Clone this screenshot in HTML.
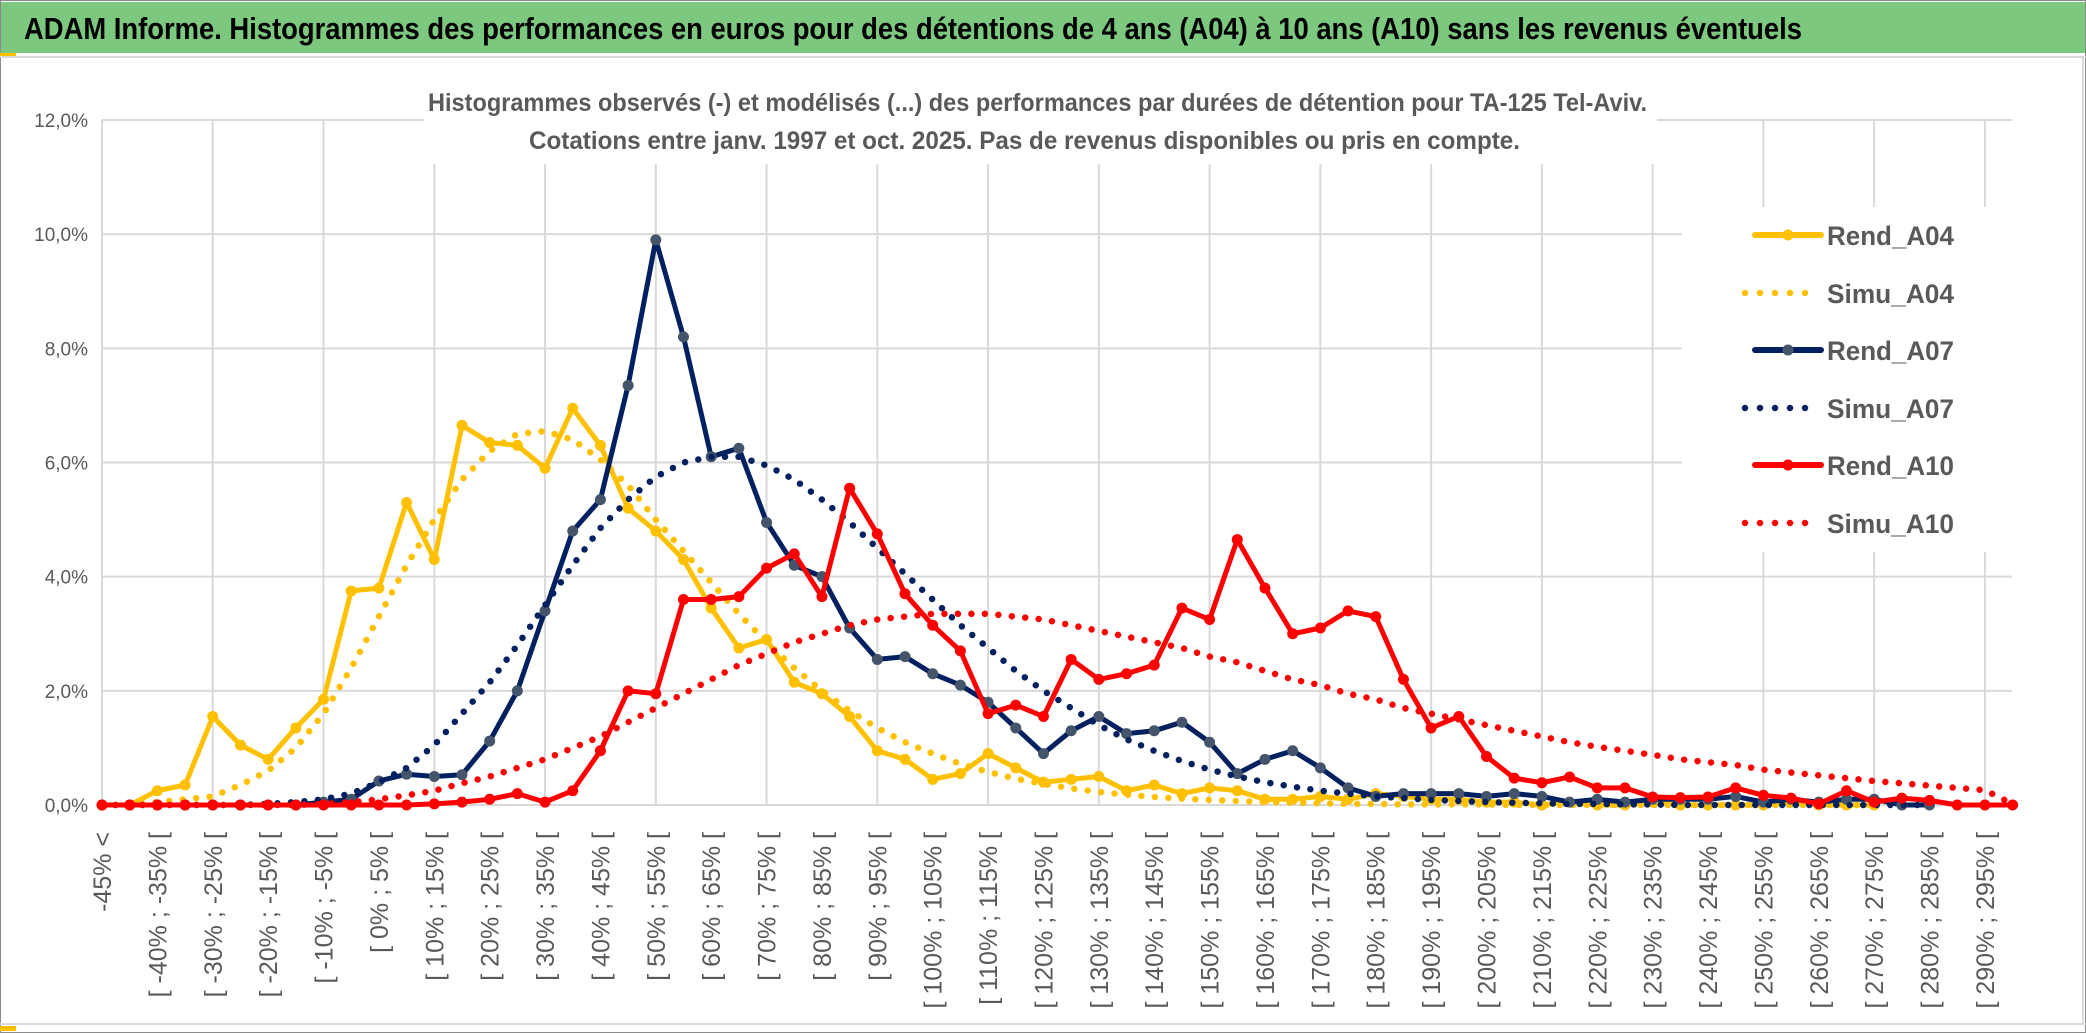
<!DOCTYPE html>
<html><head><meta charset="utf-8">
<style>
html,body{margin:0;padding:0;background:#fff;}
svg{display:block;}
</style></head>
<body>
<svg id="chart" width="2086" height="1033" xmlns="http://www.w3.org/2000/svg" font-family="'Liberation Sans Narrow','Liberation Sans',sans-serif">
  <rect x="0" y="0" width="2086" height="1033" fill="#fff"/>
  <rect x="0.5" y="0.5" width="2085" height="1032" fill="none" stroke="#8a8a8a" stroke-width="1"/>
  <rect x="1" y="2" width="2084" height="51" fill="#7dc87f"/>
  <text x="24" y="39" font-size="31" font-weight="bold" fill="#000" textLength="1778" lengthAdjust="spacingAndGlyphs">ADAM Informe. Histogrammes des performances en euros pour des détentions de 4 ans (A04) à 10 ans (A10) sans les revenus éventuels</text>
  <rect x="0" y="53" width="16" height="3" fill="#ffc000"/>
  <line x1="0" y1="57" x2="2086" y2="57" stroke="#d9d9d9" stroke-width="2"/>
  <line x1="2083" y1="57" x2="2083" y2="1024" stroke="#d9d9d9" stroke-width="2"/>
  <line x1="0" y1="1024" x2="2086" y2="1024" stroke="#d9d9d9" stroke-width="2"/>
  <rect x="0" y="1026" width="16" height="5" fill="#ffc000"/>
  <g id="grid"></g>
  <g id="yticks"></g>
  <g id="xticks"></g>
  <rect x="424" y="86" width="1233" height="78" fill="#fff"/>
  <text x="428" y="111" font-size="25" font-weight="bold" fill="#595959" textLength="1219" lengthAdjust="spacingAndGlyphs">Histogrammes observés (-) et modélisés (...) des performances par durées de détention pour TA-125 Tel-Aviv.</text>
  <text x="529" y="149" font-size="25" font-weight="bold" fill="#595959" textLength="991" lengthAdjust="spacingAndGlyphs">Cotations entre janv. 1997 et oct. 2025. Pas de revenus disponibles ou pris en compte.</text>
  <g id="series"></g>
  <rect x="1682" y="207" width="345" height="345" fill="#fff"/>
  <g id="legend"></g>
</svg>
<script>
const categories = ['-45% <'];
for (let k = 1; k < 70; k++) { categories.push('[ ' + (-50 + 5*k) + '% ; ' + (-45 + 5*k) + '% ['); }
const yTicks = [0, 2, 4, 6, 8, 10, 12];
const yTickLabels = ['0,0%', '2,0%', '4,0%', '6,0%', '8,0%', '10,0%', '12,0%'];

const rendA04 = [0,0,0.25,0.35,1.55,1.05,0.8,1.35,1.85,3.75,3.8,5.3,4.3,6.65,6.35,6.3,5.9,6.95,6.3,5.2,4.8,4.3,3.45,2.75,2.9,2.15,1.95,1.55,0.95,0.8,0.45,0.55,0.9,0.65,0.4,0.45,0.5,0.25,0.35,0.2,0.3,0.25,0.1,0.1,0.15,0.1,0.2,0.15,0.1,0.1,0.05,0.05,0,0.05,0,0,0.05,0,0,0,0,0.05,0,0,0];
const simuA04 = [0,0,0.05,0.1,0.15,0.35,0.6,1.0,1.6,2.4,3.3,4.2,5.0,5.7,6.2,6.5,6.55,6.4,6.05,5.6,5.0,4.45,3.9,3.35,2.85,2.4,2.0,1.65,1.35,1.1,0.9,0.72,0.58,0.46,0.37,0.29,0.23,0.18,0.14,0.11,0.09,0.07,0.05,0.04,0.03,0.02,0.02,0.01,0.01,0.01,0.01,0,0,0,0,0,0,0,0,0,0,0,0,0,0];
const rendA07 = [0,0,0,0,0,0,0,0,0.05,0.1,0.42,0.54,0.5,0.53,1.12,2.0,3.4,4.8,5.35,7.35,9.9,8.2,6.1,6.25,4.95,4.2,4.0,3.1,2.55,2.6,2.3,2.1,1.8,1.35,0.9,1.3,1.55,1.25,1.3,1.45,1.1,0.55,0.8,0.95,0.65,0.3,0.15,0.2,0.2,0.2,0.15,0.2,0.15,0.05,0.1,0.05,0.1,0.1,0.1,0.15,0.05,0.1,0.05,0.1,0.1,0,0];
const simuA07 = [0,0,0,0,0,0,0.02,0.05,0.1,0.2,0.4,0.65,1.05,1.6,2.15,2.8,3.5,4.2,4.85,5.35,5.75,6.0,6.1,6.1,5.95,5.7,5.35,4.95,4.5,4.05,3.6,3.15,2.75,2.35,2.0,1.7,1.4,1.15,0.95,0.77,0.62,0.5,0.4,0.32,0.25,0.2,0.15,0.12,0.09,0.07,0.05,0.04,0.03,0.02,0.02,0.01,0.01,0,0,0,0,0,0,0,0,0,0];
const rendA10 = [0,0,0,0,0,0,0,0,0,0,0,0,0.02,0.05,0.1,0.2,0.05,0.25,0.95,2.0,1.95,3.6,3.6,3.65,4.15,4.4,3.65,5.55,4.75,3.7,3.15,2.7,1.6,1.75,1.55,2.55,2.2,2.3,2.45,3.45,3.25,4.65,3.8,3.0,3.1,3.4,3.3,2.2,1.35,1.55,0.85,0.47,0.39,0.49,0.3,0.3,0.14,0.13,0.14,0.3,0.17,0.12,0.02,0.25,0.05,0.12,0.08,0,0,0];
const simuA10 = [0,0,0,0,0,0,0,0,0.02,0.05,0.1,0.17,0.25,0.38,0.5,0.65,0.8,1.0,1.2,1.45,1.7,1.95,2.2,2.45,2.65,2.85,3.0,3.15,3.25,3.3,3.35,3.35,3.35,3.3,3.25,3.15,3.05,2.95,2.85,2.75,2.6,2.5,2.35,2.2,2.1,1.95,1.85,1.7,1.6,1.5,1.4,1.3,1.2,1.1,1.02,0.95,0.88,0.8,0.75,0.7,0.62,0.57,0.52,0.47,0.42,0.38,0.34,0.3,0.26,0.02];

const seriesNames = ['Rend_A04','Simu_A04','Rend_A07','Simu_A07','Rend_A10','Simu_A10'];

const NS = 'http://www.w3.org/2000/svg';
const X0 = 102, STEP = 27.69, Y0 = 805, YTOP = 120, YMAX = 12, XRIGHT = 2012;
function xPos(i){ return X0 + i*STEP; }
function yPos(v){ return Y0 - (v/YMAX)*(Y0-YTOP); }
function mk(tag, attrs, parent){ const e = document.createElementNS(NS, tag); for (const k in attrs) e.setAttribute(k, attrs[k]); parent.appendChild(e); return e; }

const grid = document.getElementById('grid');
yTicks.forEach((t) => {
  const l = mk('line', {x1: X0, x2: XRIGHT, y1: yPos(t), y2: yPos(t), stroke: '#d9d9d9', 'stroke-width': 2}, grid);
  
  
});
for (let i = 0; i < categories.length; i += 4) {
  const l = mk('line', {x1: xPos(i), x2: xPos(i), y1: YTOP, y2: Y0, stroke: '#d9d9d9', 'stroke-width': 2}, grid);
  
  
}
const yt = document.getElementById('yticks');
yTicks.forEach((t, i) => {
  const tx = mk('text', {x: 88, y: yPos(t) + 7, 'text-anchor': 'end', 'font-size': 19, fill: '#595959'}, yt);
  tx.textContent = yTickLabels[i];
  
  
});
const xt = document.getElementById('xticks');
for (let i = 0; i < categories.length; i += 2) {
  const x = xPos(i) + 9;
  const tx = mk('text', {x: x, y: 832, transform: 'rotate(-90 ' + x + ' 832)', 'text-anchor': 'end', 'font-size': 25, fill: '#595959', 'font-family': "'Liberation Sans',sans-serif"}, xt);
  tx.textContent = categories[i];
  
  
}

const sg = document.getElementById('series');
function pathOf(arr){ return arr.map((v,i) => (i ? 'L' : 'M') + xPos(i).toFixed(1) + ' ' + yPos(v).toFixed(1)).join(' '); }
function solid(arr, color, mcolor, name){
  const g = mk('g', {}, sg);
  
  
  const p = mk('path', {d: pathOf(arr), fill: 'none', stroke: color, 'stroke-width': 5, 'stroke-linejoin': 'round'}, g);
  
  
  arr.forEach((v,i) => {
    const c = mk('circle', {cx: xPos(i), cy: yPos(v), r: 5.5, fill: mcolor}, g);
    
    
  });
}
function dotted(arr, color, name){
  const p = mk('path', {d: pathOf(arr), fill: 'none', stroke: color, 'stroke-width': 6.5, 'stroke-linecap': 'round', 'stroke-dasharray': '0 13.5'}, sg);
  
  
}
solid(rendA04, '#ffc000', '#ffc000', 'rend-a04');
dotted(simuA04, '#ffc000', 'simu-a04');
solid(rendA07, '#002060', '#44546a', 'rend-a07');
dotted(simuA07, '#002060', 'simu-a07');
solid(rendA10, '#ff0000', '#ff0000', 'rend-a10');
dotted(simuA10, '#ff0000', 'simu-a10');

const lg = document.getElementById('legend');
const legendStyle = [['#ffc000','#ffc000',false],['#ffc000',null,true],['#002060','#44546a',false],['#002060',null,true],['#ff0000','#ff0000',false],['#ff0000',null,true]];
const rowsY = [235, 293, 350, 408, 465, 523];
seriesNames.forEach((n, i) => {
  const y = rowsY[i];
  const g = mk('g', {}, lg);
  
  
  const st = legendStyle[i];
  if (st[2]) {
    mk('line', {x1: 1745, x2: 1806, y1: y, y2: y, stroke: st[0], 'stroke-width': 6.5, 'stroke-linecap': 'round', 'stroke-dasharray': '0 15'}, g);
  } else {
    mk('line', {x1: 1755, x2: 1821, y1: y, y2: y, stroke: st[0], 'stroke-width': 6, 'stroke-linecap': 'round'}, g);
    mk('circle', {cx: 1788, cy: y, r: 5.5, fill: st[1]}, g);
  }
  const tx = mk('text', {x: 1827, y: y + 10, 'font-size': 27, 'font-weight': 'bold', fill: '#595959', textLength: 127, lengthAdjust: 'spacingAndGlyphs'}, g);
  tx.textContent = n;
});
</script>
</body></html>
